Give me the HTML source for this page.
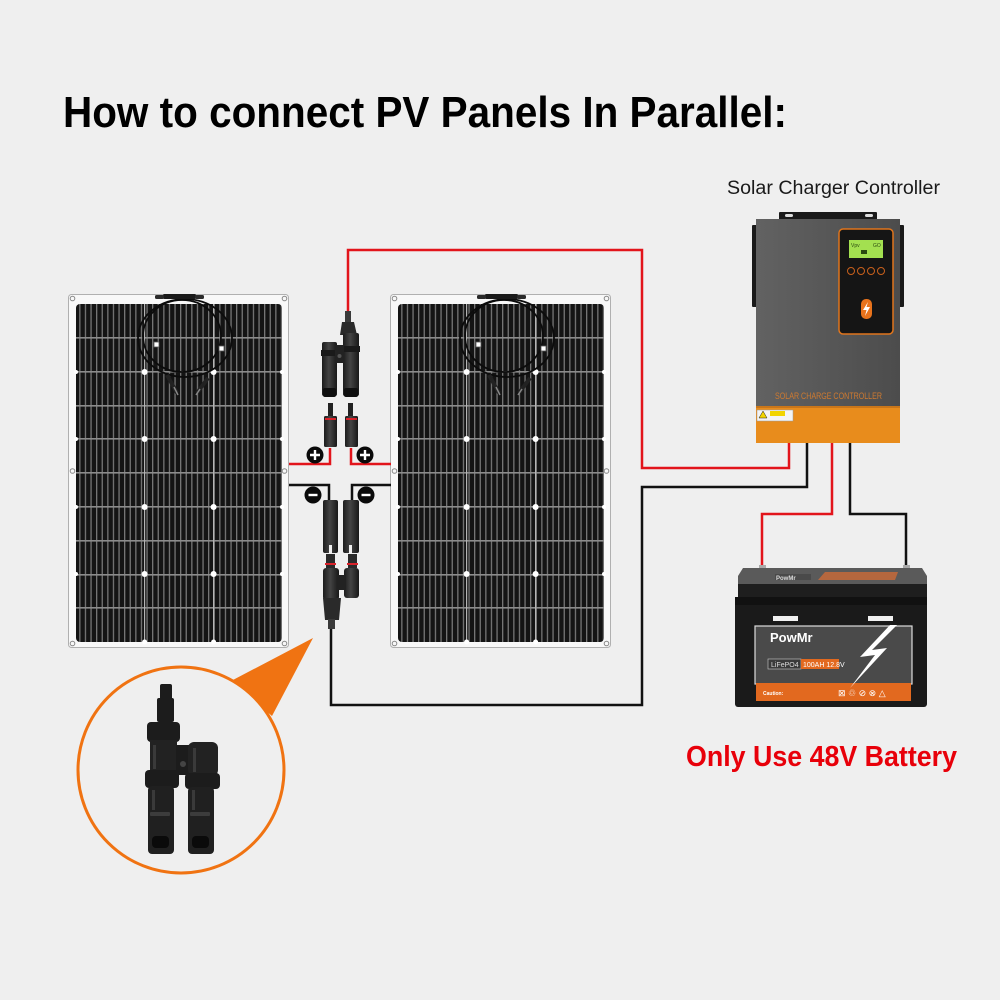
<!DOCTYPE html>
<html><head><meta charset="utf-8"><style>
html,body{margin:0;padding:0;background:#efefef;}
svg{display:block}
</style></head><body>
<svg width="1000" height="1000" viewBox="0 0 1000 1000" xmlns="http://www.w3.org/2000/svg" font-family="'Liberation Sans', sans-serif">
<defs>
<pattern id="cells" x="0" y="0" width="5.6" height="34" patternUnits="userSpaceOnUse">
<rect width="5.6" height="34" fill="#141414"/>
<rect x="0" y="0" width="1.3" height="34" fill="#767676"/>
</pattern>
<linearGradient id="ctrl" x1="0" y1="0" x2="1" y2="0">
<stop offset="0" stop-color="#626262"/><stop offset="1" stop-color="#4c4c4c"/>
</linearGradient>
<linearGradient id="conn" x1="0" y1="0" x2="1" y2="0">
<stop offset="0" stop-color="#1c1c1c"/><stop offset="0.45" stop-color="#444"/><stop offset="1" stop-color="#181818"/>
</linearGradient>
<g id="panel">
 <rect x="0.5" y="0.5" width="220" height="353" rx="3" fill="#f8f8f8" stroke="#b0b0b0"/>
 <rect x="8" y="10" width="206" height="338" rx="4" fill="url(#cells)"/>
 <g fill="#8c8c8c">
  <rect x="8" y="43" width="206" height="1.6"/>
  <rect x="8" y="77" width="206" height="1.6"/>
  <rect x="8" y="111" width="206" height="1.6"/>
  <rect x="8" y="144" width="206" height="1.6"/>
  <rect x="8" y="178" width="206" height="1.6"/>
  <rect x="8" y="212" width="206" height="1.6"/>
  <rect x="8" y="246" width="206" height="1.6"/>
  <rect x="8" y="280" width="206" height="1.6"/>
  <rect x="8" y="313" width="206" height="1.6"/>
 </g>
 <g fill="#b5b5b5">
  <rect x="76" y="10" width="1.2" height="338"/>
  <rect x="145" y="10" width="1.2" height="338"/>
 </g>
 <g fill="#ffffff">
  <circle cx="76.6" cy="78" r="3"/><circle cx="145.6" cy="78" r="3"/>
  <circle cx="76.6" cy="145" r="3"/><circle cx="145.6" cy="145" r="3"/>
  <circle cx="76.6" cy="213" r="3"/><circle cx="145.6" cy="213" r="3"/>
  <circle cx="76.6" cy="280" r="3"/><circle cx="145.6" cy="280" r="3"/>
  <circle cx="8" cy="78" r="2"/><circle cx="214" cy="78" r="2"/>
  <circle cx="8" cy="145" r="2"/><circle cx="214" cy="145" r="2"/>
  <circle cx="8" cy="213" r="2"/><circle cx="214" cy="213" r="2"/>
  <circle cx="8" cy="280" r="2"/><circle cx="214" cy="280" r="2"/>
  <circle cx="76.6" cy="348" r="2.5"/><circle cx="145.6" cy="348" r="2.5"/>
 </g>
 <g fill="none" stroke="#8a8a8a" stroke-width="1">
  <circle cx="4.5" cy="4.5" r="2.3"/><circle cx="216.5" cy="4.5" r="2.3"/>
  <circle cx="4.5" cy="349.5" r="2.3"/><circle cx="216.5" cy="349.5" r="2.3"/>
  <circle cx="4.5" cy="177" r="2.3"/><circle cx="216.5" cy="177" r="2.3"/>
 </g>
 <!-- cables -->
 <g fill="none" stroke="#0c0c0c" stroke-width="1.8">
  <ellipse cx="117" cy="44" rx="47" ry="39"/>
  <ellipse cx="114" cy="42" rx="39" ry="36"/>
 </g>
 <rect x="95" y="0" width="33" height="5" rx="1.5" fill="#1a1a1a"/>
 <rect x="87" y="1" width="9" height="4" rx="1.5" fill="#2a2a2a"/>
 <rect x="127" y="1" width="9" height="4" rx="1.5" fill="#2a2a2a"/>
 <path d="M99,81 L109,99" stroke="#222" stroke-width="4"/>
 <path d="M106,93 L110,101" stroke="#888" stroke-width="1.5"/>
 <path d="M140,84 L129,99" stroke="#222" stroke-width="4"/>
 <path d="M132,95 L128,101" stroke="#888" stroke-width="1.5"/>
 <rect x="86" y="48" width="5" height="5" fill="#fff" stroke="#555" stroke-width="0.8"/>
 <rect x="151" y="52" width="5" height="5" fill="#fff" stroke="#555" stroke-width="0.8"/>
</g>
</defs>

<rect width="1000" height="1000" fill="#efefef"/>

<!-- Title -->
<text x="63" y="127" font-size="44" font-weight="bold" fill="#000" textLength="724" lengthAdjust="spacingAndGlyphs">How to connect PV Panels In Parallel:</text>
<text x="727" y="194" font-size="19" fill="#1a1a1a" textLength="213" lengthAdjust="spacingAndGlyphs">Solar Charger Controller</text>
<text x="686" y="766" font-size="29" font-weight="bold" fill="#e8000a" textLength="271" lengthAdjust="spacingAndGlyphs">Only Use 48V Battery</text>

<!-- Panels -->
<use href="#panel" transform="translate(68,294)"/>
<use href="#panel" transform="translate(390,294)"/>

<!-- Wires -->
<g fill="none" stroke-width="2.5" stroke-linejoin="miter">
 <path d="M289,464 H330 V448" stroke="#e2141b"/>
 <path d="M351,448 V464 H391" stroke="#e2141b"/>
 <path d="M348,315 V250 H642 V468 H789 V442" stroke="#e2141b"/>
 <path d="M832,442 V514 H762 V572" stroke="#e2141b"/>
 <path d="M289,485 H329 V500" stroke="#111"/>
 <path d="M352,500 V485 H391" stroke="#111"/>
 <path d="M807,442 V487 H642 V705 H331 V628" stroke="#111"/>
 <path d="M850,442 V514 H906 V572" stroke="#111"/>
</g>

<!-- Top Y connector (+) -->
<g>
 <rect x="345" y="311" width="6" height="11" fill="#3a3a3a"/>
 <polygon points="342,322 354,322 357,335 340,335" fill="#2a2a2a"/>
 <rect x="343" y="333" width="16" height="63" rx="2" fill="url(#conn)"/>
 <rect x="342" y="346" width="18" height="6" fill="#1a1a1a"/>
 <rect x="322" y="342" width="15" height="54" rx="2" fill="url(#conn)"/>
 <rect x="321" y="350" width="17" height="6" fill="#1a1a1a"/>
 <rect x="335" y="345" width="9" height="18" fill="#222"/>
 <circle cx="339.5" cy="356" r="2" fill="#555"/>
 <rect x="323" y="388" width="13" height="9" rx="2" fill="#0f0f0f"/>
 <rect x="344" y="388" width="14" height="9" rx="2" fill="#0f0f0f"/>
</g>
<!-- small + connectors -->
<g>
 <rect x="328" y="403" width="5" height="14" fill="#222"/>
 <rect x="324" y="416" width="13" height="31" rx="1.5" fill="url(#conn)"/>
 <rect x="325" y="418" width="11" height="2" fill="#d8222a"/>
 <rect x="348" y="403" width="5" height="14" fill="#222"/>
 <rect x="345" y="416" width="13" height="31" rx="1.5" fill="url(#conn)"/>
 <rect x="346" y="418" width="11" height="2" fill="#d8222a"/>
</g>
<!-- - connectors -->
<g>
 <rect x="323" y="500" width="15" height="53" rx="2" fill="url(#conn)"/>
 <rect x="343" y="500" width="16" height="53" rx="2" fill="url(#conn)"/>
 <rect x="329" y="545" width="3" height="8" fill="#efefef"/>
 <rect x="349" y="545" width="3" height="8" fill="#efefef"/>
</g>
<!-- Bottom Y connector -->
<g>
 <rect x="326" y="554" width="9" height="14" fill="#2a2a2a"/>
 <rect x="348" y="554" width="9" height="14" fill="#2a2a2a"/>
 <rect x="325" y="563" width="11" height="2" fill="#d8222a"/>
 <rect x="347" y="563" width="11" height="2" fill="#d8222a"/>
 <rect x="323" y="568" width="16" height="32" rx="3" fill="url(#conn)"/>
 <rect x="344" y="568" width="15" height="30" rx="3" fill="url(#conn)"/>
 <rect x="337" y="575" width="9" height="15" fill="#222"/>
 <polygon points="323,598 341,598 339,620 325,620" fill="#2a2a2a"/>
 <rect x="328" y="619" width="7" height="10" fill="#3a3a3a"/>
</g>

<!-- +/- badges -->
<g>
 <circle cx="315" cy="455" r="8.5" fill="#0a0a0a"/>
 <circle cx="365" cy="455" r="8.5" fill="#0a0a0a"/>
 <circle cx="313" cy="495" r="8.5" fill="#0a0a0a"/>
 <circle cx="366" cy="495" r="8.5" fill="#0a0a0a"/>
 <g stroke="#fff" stroke-width="2.4">
  <path d="M310,455 H320 M315,450 V460"/>
  <path d="M360,455 H370 M365,450 V460"/>
  <path d="M308.5,495 H317.5"/>
  <path d="M361.5,495 H370.5"/>
 </g>
</g>

<!-- Controller -->
<g>
 <rect x="779" y="212" width="98" height="8" rx="1" fill="#1a1a1a"/>
 <rect x="785" y="214" width="8" height="3" rx="1.5" fill="#ddd"/>
 <rect x="865" y="214" width="8" height="3" rx="1.5" fill="#ddd"/>
 <rect x="752" y="225" width="6" height="82" rx="1" fill="#1a1a1a"/>
 <rect x="898" y="225" width="6" height="82" rx="1" fill="#1a1a1a"/>
 <rect x="756" y="219" width="144" height="189" fill="url(#ctrl)"/>
 <rect x="756" y="406" width="144" height="37" fill="#e88c1c"/>
 <rect x="756" y="406" width="144" height="2" fill="#c9761a"/>
 <rect x="757" y="410" width="36" height="11" fill="#f4f4f4" stroke="#999" stroke-width="0.5"/>
 <rect x="770" y="411" width="15" height="5" fill="#f2d400"/>
 <polygon points="763,411 767,418 759,418" fill="#f2d400" stroke="#222" stroke-width="0.5"/>
 <text x="775" y="399" font-size="9" fill="#cf7a30" textLength="107" lengthAdjust="spacingAndGlyphs">SOLAR CHARGE CONTROLLER</text>
 <rect x="839" y="229" width="54" height="105" rx="4" fill="#151515" stroke="#e0751c" stroke-width="1.5"/>
 <rect x="849" y="240" width="34" height="18" fill="#a3e050"/>
 <text x="851" y="247" font-size="5" fill="#2a4a10">Vpv</text>
 <text x="873" y="247" font-size="5" fill="#2a4a10">GO</text>
 <rect x="861" y="250" width="6" height="4" fill="#2a4a10"/>
 <g fill="none" stroke="#c8601c" stroke-width="1">
  <circle cx="851" cy="271" r="3.5"/><circle cx="861" cy="271" r="3.5"/>
  <circle cx="871" cy="271" r="3.5"/><circle cx="881" cy="271" r="3.5"/>
 </g>
 <rect x="861" y="299" width="11" height="20" rx="5" fill="#e8731c"/>
 <polygon points="868,302 863,310 866.5,310 865,316 870,307 866.5,307" fill="#fff"/>
</g>

<!-- Battery -->
<g>
 <rect x="759" y="565" width="7" height="10" fill="#aaa"/>
 <rect x="903" y="565" width="7" height="10" fill="#aaa"/>
 <polygon points="743,568 922,568 927,576 927,584 738,584 738,576" fill="#5a5a5a"/>
 <rect x="775" y="574" width="36" height="6" fill="#4a4a4a"/>
 <text x="776" y="580" font-size="6" font-weight="bold" fill="#ddd">PowMr</text>
 <polygon points="818,580 895,580 898,572 825,572" fill="#c66a3a" opacity="0.85"/>
 <rect x="738" y="584" width="189" height="13" fill="#1e1e1e"/>
 <rect x="735" y="597" width="192" height="110" rx="3" fill="#1a1a1a"/>
 <rect x="735" y="597" width="192" height="8" fill="#111"/>
 <rect x="773" y="616" width="25" height="5" fill="#f0f0f0"/>
 <rect x="868" y="616" width="25" height="5" fill="#f0f0f0"/>
 <rect x="755" y="626" width="157" height="58" fill="#4a4a4a" stroke="#dcdcdc" stroke-width="1.2"/>
 <rect x="756" y="683" width="155" height="18" fill="#e2691f"/>
 <text x="770" y="642" font-size="13" font-weight="bold" fill="#fff">PowMr</text>
 <rect x="768" y="659" width="33" height="10" fill="#3a3a3a" stroke="#ccc" stroke-width="0.6"/>
 <text x="771" y="667" font-size="7" fill="#ddd">LiFePO4</text>
 <rect x="801" y="659" width="38" height="10" fill="#e2691f"/>
 <text x="803" y="667" font-size="7" fill="#fff">100AH 12.8V</text>
 <polygon points="890,625 860,657 875,655 850,688 887,648 872,650 897,625" fill="#fff"/>
 <text x="763" y="695" font-size="5" font-weight="bold" fill="#fff">Caution:</text>
 <text x="838" y="696" font-size="9" fill="#fff">⊠ ♲ ⊘ ⊗ △</text>
</g>

<!-- Inset circle with Y connector -->
<g>
 <polygon points="231,681 272,716 313,638" fill="#f07312"/>
 <circle cx="181" cy="770" r="103" fill="#efefef" stroke="#f07312" stroke-width="3"/>
 <g fill="#1c1c1c">
  <rect x="160" y="684" width="12" height="16" rx="2"/>
  <rect x="157" y="698" width="17" height="24" rx="2"/>
  <rect x="147" y="722" width="33" height="20" rx="4"/>
  <rect x="150" y="740" width="27" height="32" fill="#222"/>
  <rect x="145" y="770" width="34" height="18" rx="4"/>
  <rect x="148" y="786" width="26" height="68" rx="4" fill="#202020"/>
  <rect x="176" y="745" width="14" height="30"/>
  <rect x="188" y="742" width="30" height="34" rx="6" fill="#222"/>
  <rect x="185" y="773" width="35" height="16" rx="4"/>
  <rect x="188" y="787" width="26" height="67" rx="4" fill="#202020"/>
 </g>
 <circle cx="183" cy="764" r="3" fill="#444"/>
 <g fill="#3c3c3c">
  <rect x="150" y="812" width="20" height="4" rx="1"/>
  <rect x="190" y="812" width="20" height="4" rx="1"/>
  <rect x="152" y="836" width="17" height="12" rx="4" fill="#0a0a0a"/>
  <rect x="192" y="836" width="17" height="12" rx="4" fill="#0a0a0a"/>
  <rect x="153" y="745" width="3" height="24" fill="#3a3a3a"/>
  <rect x="193" y="748" width="3" height="24" fill="#3a3a3a"/>
  <rect x="152" y="790" width="3" height="20" fill="#3a3a3a"/>
  <rect x="192" y="790" width="3" height="20" fill="#3a3a3a"/>
 </g>
</g>
</svg>
</body></html>
